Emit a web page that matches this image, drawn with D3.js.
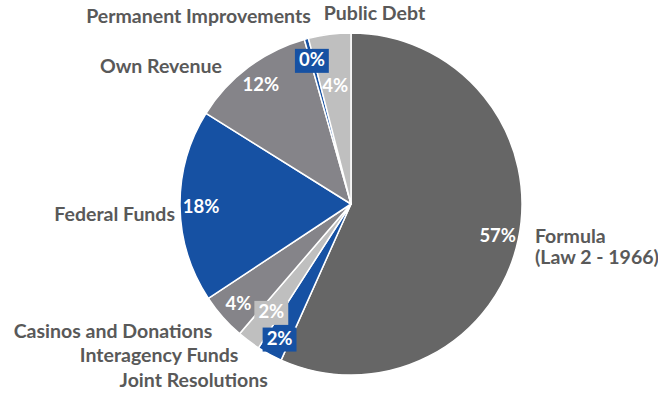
<!DOCTYPE html>
<html>
<head>
<meta charset="utf-8">
<script src="https://cdn.jsdelivr.net/npm/d3@7/dist/d3.min.js"></script>
<style>
  html, body { margin: 0; padding: 0; background: #ffffff; }
  svg { display: block; }
  text { font-family: "Lato", "Open Sans", sans-serif; font-weight: 700; }
</style>
</head>
<body>
<svg id="chart" width="658" height="394"></svg>
<script>
// Budget sources, share of total (%)
const categories = [
  "Formula (Law 2 - 1966)",
  "Joint Resolutions",
  "Interagency Funds",
  "Casinos and Donations",
  "Federal Funds",
  "Own Revenue",
  "Permanent Improvements",
  "Public Debt"
];
const shares = [56.7, 2.4, 2.2, 4.4, 18.2, 11.7, 0.4, 4.0];

const width = 658, height = 394;
const cx = 351, cy = 204, radius = 171;

const svg = d3.select("#chart");
const g = svg.append("g").attr("transform", `translate(${cx},${cy})`);

const color = d3.scaleOrdinal()
  .domain(categories)
  .range(["#666666", "#1651a3", "#bfbfbf", "#858489", "#1651a3", "#858489", "#1651a3", "#bfbfbf"]);

const data = categories.map((name, i) => ({ name, value: shares[i] }));

const pie = d3.pie().sort(null).value(d => d.value);
const arcs = pie(data);

const arc = d3.arc().innerRadius(0).outerRadius(radius);
const valueArc = d3.arc().innerRadius(150).outerRadius(150);
const nameArc = d3.arc().innerRadius(185).outerRadius(185);

// slices
g.selectAll("path.slice")
  .data(arcs)
  .enter().append("path")
  .attr("class", "slice")
  .attr("d", arc)
  .attr("fill", d => color(d.data.name))
  .attr("stroke", "#ffffff")
  .attr("stroke-width", 1.5)
  .attr("stroke-linejoin", "round");

// percentage labels, nudged where neighbours crowd
const valueNudge = {
  "Interagency Funds": [10, -13],
  "Public Debt": [3, 30],
  "Joint Resolutions": [0, 2]
};
const boxed = {
  "Joint Resolutions": true,
  "Interagency Funds": true,
  "Permanent Improvements": true
};
const fmt = v => Math.round(v) + "%";
const fontSize = 19.5;

const valueGroups = g.selectAll("g.value")
  .data(arcs)
  .enter().append("g")
  .attr("class", "value")
  .attr("transform", d => {
    const [x, y] = valueArc.centroid(d);
    const n = valueNudge[d.data.name] || [0, 0];
    return `translate(${x + n[0]},${y + n[1]})`;
  });

valueGroups.append("text")
  .attr("text-anchor", "middle")
  .attr("dy", "0.36em")
  .attr("font-size", 18.5)
  .attr("fill", "#ffffff")
  .text(d => fmt(d.data.value));

valueGroups.each(function(d) {
  if (!boxed[d.data.name]) return;
  const grp = d3.select(this);
  const bb = grp.select("text").node().getBBox();
  grp.insert("rect", "text")
    .attr("x", bb.x - 4)
    .attr("y", bb.y + 1)
    .attr("width", bb.width + 8)
    .attr("height", bb.height + 2)
    .attr("fill", color(d.data.name));
});

// category labels outside the pie
const nameLayout = {
  "Formula (Law 2 - 1966)": { dx: 3, dy: 0, anchor: "start" },
  "Joint Resolutions": { dx: 5, dy: 20, anchor: "end" },
  "Interagency Funds": { dx: -2, dy: 10, anchor: "end" },
  "Casinos and Donations": { dx: 0, dy: 12, anchor: "end" },
  "Federal Funds": { dx: 9, dy: 15, anchor: "end" },
  "Own Revenue": { dx: -18, dy: 17, anchor: "end" },
  "Permanent Improvements": { dx: 8, dy: -2, anchor: "end" },
  "Public Debt": { dx: -4, dy: 0, anchor: "start" }
};

const names = g.selectAll("text.name")
  .data(arcs)
  .enter().append("text")
  .attr("class", "name")
  .attr("font-size", fontSize)
  .attr("fill", "#595959")
  .attr("text-anchor", d => nameLayout[d.data.name].anchor)
  .attr("transform", d => {
    const [x, y] = nameArc.centroid(d);
    const l = nameLayout[d.data.name];
    return `translate(${x + l.dx},${y + l.dy})`;
  });

names.each(function(d) {
  const t = d3.select(this);
  const parts = d.data.name.split(/ (?=\()/);
  parts.forEach((p, i) => {
    t.append("tspan")
      .attr("x", 0)
      .attr("dy", i === 0 ? 0 : 21)
      .text(p);
  });
});
</script>
</body>
</html>
